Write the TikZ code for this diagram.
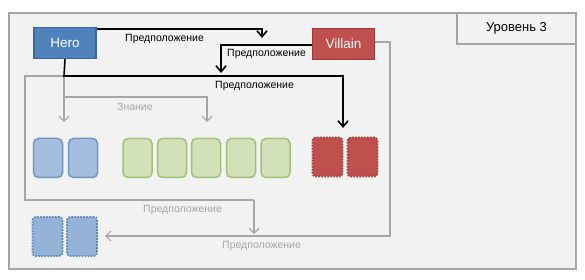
\documentclass[tikz,border=0pt]{standalone}
\usepackage{fontspec}
\setmainfont{Liberation Sans}
\usetikzlibrary{arrows.meta}
\definecolor{bgc}{HTML}{F2F2F2}
\definecolor{frame}{HTML}{A6A6A6}
\definecolor{heroF}{HTML}{4F81BD}
\definecolor{heroD}{HTML}{3A669B}
\definecolor{vilF}{HTML}{C0504D}
\definecolor{vilD}{HTML}{9E3B39}
\definecolor{lbF}{HTML}{A5BEDD}
\definecolor{lbD}{HTML}{6F93C3}
\definecolor{grF}{HTML}{D2E1B8}
\definecolor{grD}{HTML}{A3BF78}
\definecolor{dbF}{HTML}{95B3D7}
\definecolor{dbD}{HTML}{5C86BE}
\definecolor{gline}{HTML}{A6A6A6}
\tikzset{
  actor/.style={draw, line width=1.5pt, minimum width=62pt, minimum height=31pt, text=white, font=\fontsize{13.5}{15}\selectfont, inner sep=0pt},
  card/.style={rounded corners=5pt, line width=1.5pt, minimum width=29pt, minimum height=39pt, inner sep=0pt},
  dcard/.style={rounded corners=3pt, line width=1.6pt, dash pattern=on 1.6pt off 1.4pt, minimum width=30pt, minimum height=39pt, inner sep=0pt},
  blk/.style={line width=1.6pt, black, -{Straight Barb[length=6pt,width=10pt,line width=1.6pt]}},
  gry/.style={line width=1.2pt, gline, -{Straight Barb[length=5pt,width=10pt,line width=1.2pt]}},
  gryl/.style={line width=1.2pt, gline},
  lbl/.style={font=\fontsize{10.5}{12}\selectfont, inner sep=0pt},
  glbl/.style={lbl, text=gline}
}
\begin{document}
\begin{tikzpicture}[x=1pt,y=-1pt]
\useasboundingbox (0,0) rectangle (585,280);
\fill[white] (0,0) rectangle (585,280);
\node[draw=frame, fill=bgc, line width=2pt, minimum width=567pt, minimum height=256pt, anchor=north west, inner sep=0pt] (frame) at (8,12) {};
\node[draw=frame, fill=bgc, line width=2pt, minimum width=119pt, minimum height=31pt, anchor=north west, inner sep=0pt, font=\fontsize{13}{15}\selectfont] (lvl) at (456,12) {Уровень 3};

\node[card, draw=lbD, fill=lbF] (b1) at (48,158) {};
\node[card, draw=lbD, fill=lbF] (b2) at (83,158) {};
\node[card, draw=grD, fill=grF] (g1) at (137.5,158) {};
\node[card, draw=grD, fill=grF] (g2) at (172,158) {};
\node[card, draw=grD, fill=grF] (g3) at (206,158) {};
\node[card, draw=grD, fill=grF] (g4) at (241,158) {};
\node[card, draw=grD, fill=grF] (g5) at (275.5,158) {};
\node[dcard, draw=vilD, fill=vilF] (r1) at (327.5,157) {};
\node[dcard, draw=vilD, fill=vilF] (r2) at (362.5,157) {};
\node[dcard, draw=dbD, fill=dbF] (d1) at (47.5,236.5) {};
\node[dcard, draw=dbD, fill=dbF] (d2) at (82,236.5) {};

\node[actor, draw=heroD, fill=heroF] (hero) at (65,43) {Hero};
\node[actor, draw=vilD, fill=vilF] (villain) at (343.5,44) {Villain};

\coordinate (hb) at (64,76);
\coordinate (k1) at (64,97);
\coordinate (k2) at (207,97);
\coordinate (t1) at (64,122);
\coordinate (t2) at (207,122);
\coordinate (gl) at (25,76);
\coordinate (gb) at (25,200);
\coordinate (gr) at (254,200);
\coordinate (gt) at (254,234);
\coordinate (vr) at (390,42);
\coordinate (vb) at (390,236);
\coordinate (vt) at (105,236);
\coordinate (a1) at (262,29);
\coordinate (a1t) at (262,38);
\coordinate (a2) at (221,45);
\coordinate (a2t) at (221,73);
\coordinate (a3) at (343,76);
\coordinate (a3t) at (343,128);

\draw[gry] (hb) -- (t1);
\draw[gry] (k1) -- (k2) -- (t2);
\draw[gryl] (hb) -- (gl) -- (gb) -- (gr);
\draw[gry] (gr) -- (gt);
\draw[gry] (villain.east |- vr) -- (vr) -- (vb) -- (vt);
\node[glbl, anchor=west] at (117,107) {Знание};
\node[glbl, anchor=west] at (143,210) {Предположение};
\node[glbl, anchor=west] at (222,245.5) {Предположение};

\draw[blk] (hero.east |- a1) -- (a1) -- (a1t);
\draw[blk] (villain.west |- a2) -- (a2) -- (a2t);
\draw[blk] (hero.south) -- (hb) -- (a3) -- (a3t);
\node[lbl, anchor=west] at (125,38.5) {Предположение};
\node[lbl, anchor=west] at (227,53.5) {Предположение};
\node[lbl, anchor=west] at (215,86) {Предположение};
\end{tikzpicture}
\end{document}
